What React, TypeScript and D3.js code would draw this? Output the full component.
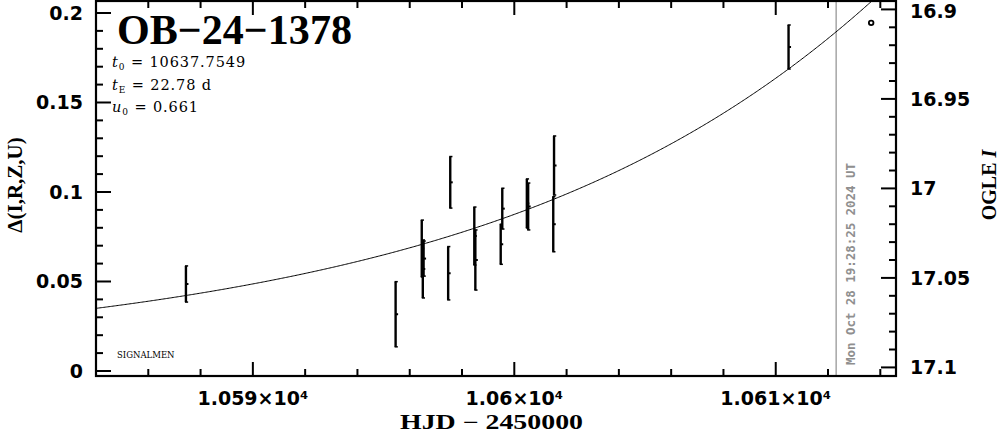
import React from "react";
import * as d3 from "d3";

// ---- data ----
const hjd = [10587.44, 10595.46, 10596.46, 10596.5, 10596.53, 10597.47, 10597.55, 10598.47, 10598.51, 10599.48, 10599.54, 10600.48, 10600.53, 10601.49, 10601.52, 10610.49];
const delta = [0.0486, 0.0317, 0.0684, 0.057, 0.0628, 0.0546, 0.1054, 0.0754, 0.062, 0.0708, 0.0907, 0.0936, 0.0919, 0.082, 0.1148, 0.181];
const deltaErr = [0.0101, 0.0182, 0.0159, 0.0162, 0.0098, 0.0149, 0.0144, 0.0162, 0.0168, 0.0112, 0.0114, 0.0137, 0.0131, 0.0154, 0.0165, 0.0123];

const modelT0 = [10637.7549];
const modelTE = [22.78];
const modelU0 = [0.661];

const xMajorTicks = [10590, 10600, 10610];
const xTickLabels = ["1.059×10⁴", "1.06×10⁴", "1.061×10⁴"];
const yMajorTicks = [0, 0.05, 0.1, 0.15, 0.2];
const yTickLabels = ["0", "0.05", "0.1", "0.15", "0.2"];
const magMajorTicks = [16.9, 16.95, 17, 17.05, 17.1];
const magTickLabels = ["16.9", "16.95", "17", "17.05", "17.1"];

const nowHJD = [10612.31];
const nowLabel = ["Mon Oct 28 19:28:25 2024 UT"];
const markerHJD = [10613.65];
const markerDelta = [0.1945];

const title = "OB−24−1378";

// ---- layout ----
const W = 999, H = 434;
const L = 96, R = 896, T = 1, B = 376;

export default function App() {
  const x = d3.scaleLinear().domain([10584, 10614.6]).range([L, R]);
  const y = d3.scaleLinear().domain([-0.0028, 0.2067]).range([B, T]);
  const magOffset = 17.102;
  const yMag = d3.scaleLinear().domain([magOffset + 0.0028, magOffset - 0.2067]).range([B, T]);

  const t0 = modelT0[0], tE = modelTE[0], u0 = modelU0[0];
  const tGrid = d3.range(10584, 10614.6, 0.05).concat([10614.6]);
  const model = tGrid.map((t) => {
    const tau = (t - t0) / tE;
    const u2 = u0 * u0 + tau * tau;
    const u = Math.sqrt(u2);
    const A = (u2 + 2) / (u * Math.sqrt(u2 + 4));
    return [t, 2.5 * Math.log10(A)] as [number, number];
  });
  const line = d3.line<[number, number]>().x((d) => x(d[0])).y((d) => y(d[1]));

  const xMinor = d3.range(10584, 10615, 2).filter((v) => !xMajorTicks.includes(v));
  const yMinor = d3.range(0, 0.2001, 0.01).filter((v) => !yMajorTicks.some((m) => Math.abs(m - v) < 1e-6));
  const magMinor = d3.range(16.9, 17.1001, 0.01).filter((v) => !magMajorTicks.some((m) => Math.abs(m - v) < 1e-6));

  const tickFont = { fontFamily: "DejaVu Sans", fontWeight: "bold", fontSize: 19 } as const;
  const serifB = { fontFamily: "Liberation Serif", fontWeight: "bold" } as const;

  return (
    <svg width={W} height={H} style={{ position: "absolute", left: 0, top: 0, background: "#fff" }}>
      <defs>
        <clipPath id="plot">
          <rect x={L} y={T} width={R - L} height={B - T} />
        </clipPath>
      </defs>
      <rect x={0} y={0} width={W} height={H} fill="#fff" />

      {/* now line */}
      <line x1={x(nowHJD[0])} x2={x(nowHJD[0])} y1={T} y2={B} stroke="#8f8f8f" strokeWidth={1.2} />
      <text
        transform={`translate(${x(nowHJD[0]) + 19},365) rotate(-90)`}
        fontFamily="DejaVu Sans Mono" fontWeight="bold" fontSize={12.5} fill="#8f8f8f"
        textLength={202} lengthAdjust="spacingAndGlyphs"
      >
        {nowLabel[0]}
      </text>

      {/* model curve */}
      <path d={line(model) || ""} fill="none" stroke="#000" strokeWidth={1} clipPath="url(#plot)" />

      {/* data */}
      <g stroke="#000" strokeWidth={2.4} clipPath="url(#plot)">
        {hjd.map((t, i) => {
          const cx = x(t);
          const y1 = y(delta[i] + deltaErr[i]);
          const y2 = y(delta[i] - deltaErr[i]);
          const yc = y(delta[i]);
          return (
            <g key={i}>
              <line x1={cx} x2={cx} y1={y1} y2={y2} />
              <line x1={cx - 1} x2={cx + 2.2} y1={y1} y2={y1} strokeWidth={1.5} />
              <line x1={cx - 1} x2={cx + 2.2} y1={y2} y2={y2} strokeWidth={1.5} />
              <line x1={cx} x2={cx + 2.5} y1={yc} y2={yc} strokeWidth={2} />
            </g>
          );
        })}
      </g>

      {/* marker circle */}
      <circle cx={x(markerHJD[0])} cy={y(markerDelta[0])} r={2.3} fill="none" stroke="#000" strokeWidth={1.8} />

      {/* frame */}
      <rect x={L} y={T} width={R - L} height={B - T} fill="none" stroke="#000" strokeWidth={2.2} />

      {/* ticks */}
      <g stroke="#000" strokeWidth={2}>
        {xMajorTicks.map((v) => (
          <g key={"xm" + v}>
            <line x1={x(v)} x2={x(v)} y1={B} y2={B - 14} />
            <line x1={x(v)} x2={x(v)} y1={T} y2={T + 14} />
          </g>
        ))}
        {xMinor.map((v) => (
          <g key={"xn" + v}>
            <line x1={x(v)} x2={x(v)} y1={B} y2={B - 7} />
            <line x1={x(v)} x2={x(v)} y1={T} y2={T + 7} />
          </g>
        ))}
        {yMajorTicks.map((v) => (
          <line key={"ym" + v} x1={L} x2={L + 15} y1={y(v)} y2={y(v)} />
        ))}
        {yMinor.map((v) => (
          <line key={"yn" + v} x1={L} x2={L + 7} y1={y(v)} y2={y(v)} />
        ))}
        {magMajorTicks.map((v) => (
          <line key={"mm" + v} x1={R} x2={R - 15} y1={yMag(v)} y2={yMag(v)} />
        ))}
        {magMinor.map((v) => (
          <line key={"mn" + v} x1={R} x2={R - 7} y1={yMag(v)} y2={yMag(v)} />
        ))}
      </g>

      {/* tick labels */}
      {xMajorTicks.map((v, i) => (
        <text key={"xl" + v} x={x(v)} y={405} textAnchor="middle" {...tickFont}>
          {xTickLabels[i]}
        </text>
      ))}
      {yMajorTicks.map((v, i) => (
        <text key={"yl" + v} x={83} y={Math.max(y(v), 11)} dy="0.36em" textAnchor="end" {...tickFont}>
          {yTickLabels[i]}
        </text>
      ))}
      {magMajorTicks.map((v, i) => (
        <text key={"ml" + v} x={910} y={Math.max(yMag(v), 11)} dy="0.36em" textAnchor="start" {...tickFont}>
          {magTickLabels[i]}
        </text>
      ))}

      {/* axis titles */}
      <text x={491.5} y={429} textAnchor="middle" {...serifB} fontSize={20} textLength={183} lengthAdjust="spacingAndGlyphs">
        HJD − 2450000
      </text>
      <text transform="translate(22,185) rotate(-90)" textAnchor="middle" {...serifB} fontSize={21}>
        Δ(I,R,Z,U)
      </text>
      <text transform="translate(996,185) rotate(-90)" textAnchor="middle" {...serifB} fontSize={20}>
        OGLE <tspan fontStyle="italic">I</tspan>
      </text>

      {/* title and params */}
      <text x={117} y={44} {...serifB} fontSize={42} textLength={235} lengthAdjust="spacingAndGlyphs">
        {title}
      </text>
      <g fontFamily="DejaVu Serif" fontSize={14.5} letterSpacing={0.9}>
        <text x={112} y={67}>
          <tspan fontStyle="italic">t</tspan>
          <tspan fontSize={9} dy={3}>0</tspan>
          <tspan dy={-3}> = {modelT0[0].toFixed(4)}</tspan>
        </text>
        <text x={112} y={90}>
          <tspan fontStyle="italic">t</tspan>
          <tspan fontSize={9} dy={3}>E</tspan>
          <tspan dy={-3}> = {modelTE[0].toFixed(2)} d</tspan>
        </text>
        <text x={112} y={112}>
          <tspan fontStyle="italic">u</tspan>
          <tspan fontSize={9} dy={3}>0</tspan>
          <tspan dy={-3}> = {modelU0[0].toFixed(3)}</tspan>
        </text>
      </g>
      <text x={117} y={358} fontFamily="DejaVu Serif" fontSize={8.5}>
        SIGNALMEN
      </text>
    </svg>
  );
}
